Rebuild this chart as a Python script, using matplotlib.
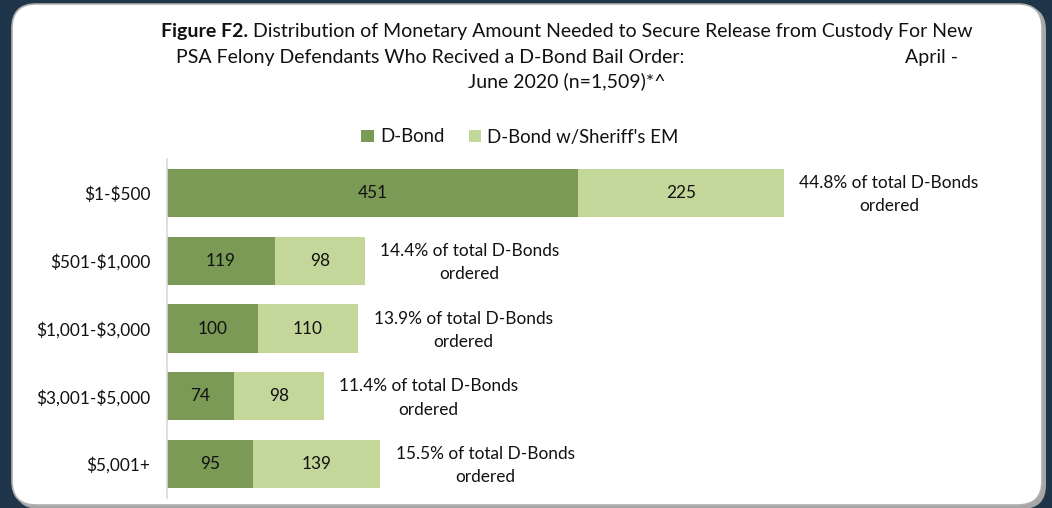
import matplotlib
matplotlib.use("Agg")
import matplotlib.pyplot as plt
from matplotlib.patches import FancyBboxPatch, Patch

plt.rcParams['font.family'] = ['Lato', 'DejaVu Sans']
plt.rcParams['text.parse_math'] = False

categories = ["$1-$500", "$501-$1,000", "$1,001-$3,000", "$3,001-$5,000", "$5,001+"]
dbond = [451, 119, 100, 74, 95]
dbond_em = [225, 98, 110, 98, 139]
pct_labels = ["44.8% of total D-Bonds\nordered", "14.4% of total D-Bonds\nordered",
              "13.9% of total D-Bonds\nordered", "11.4% of total D-Bonds\nordered",
              "15.5% of total D-Bonds\nordered"]
series_names = ["D-Bond", "D-Bond w/Sheriff's EM"]

C_DARK = "#7a9a55"
C_LIGHT = "#c4d79b"
TXT = "#111111"
W, H = 1052, 508
FS = 12.4

fig = plt.figure(figsize=(W / 100, H / 100), dpi=100)
fig.patch.set_facecolor("#1f3549")

# background panel
bg = fig.add_axes([0, 0, 1, 1])
bg.set_xlim(0, W)
bg.set_ylim(H, 0)
bg.axis("off")
bg.add_patch(FancyBboxPatch((15, 6), 1031, 503, boxstyle="round,pad=0,rounding_size=24",
                            fc="#a6a6a6", ec="none"))
bg.add_patch(FancyBboxPatch((12, 4), 1030, 501, boxstyle="round,pad=0,rounding_size=24",
                            fc="white", ec="#b0b0b0", lw=1.2))

# chart axes
x0, x1 = 166.5, 1030
ytop, ybot = 159, 498
ax = fig.add_axes([x0 / W, (H - ybot) / H, (x1 - x0) / W, (ybot - ytop) / H])
ax.patch.set_alpha(0)
scale = 0.9135  # px per unit
ax.set_xlim(0, (x1 - x0) / scale)
ypos = list(range(len(categories)))
ax.set_ylim(len(categories) - 0.5, -0.5)

bh = 0.71
b1 = ax.barh(ypos, dbond, height=bh, color=C_DARK, label=series_names[0])
b2 = ax.barh(ypos, dbond_em, left=dbond, height=bh, color=C_LIGHT, label=series_names[1])
ax.bar_label(b1, labels=[str(v) for v in dbond], label_type="center", fontsize=FS, color=TXT)
ax.bar_label(b2, labels=[str(v) for v in dbond_em], label_type="center", fontsize=FS, color=TXT)

for i, (a, b, t) in enumerate(zip(dbond, dbond_em, pct_labels)):
    ax.annotate(t, xy=(a + b, i), xytext=(11, -1.2), textcoords="offset points",
                ha="left", va="center", multialignment="center", fontsize=FS, color=TXT,
                linespacing=1.55)

ax.set_yticks(ypos)
ax.set_yticklabels(categories, fontsize=FS, color=TXT)
ax.tick_params(axis="y", length=0, pad=11.5)
ax.set_xticks([])
for s in ["top", "right", "bottom"]:
    ax.spines[s].set_visible(False)
ax.spines["left"].set_color("#d9d9d9")
ax.spines["left"].set_linewidth(1.2)

# legend
handles = [Patch(fc=C_DARK, ec="none"), Patch(fc=C_LIGHT, ec="none")]
fig.legend(handles, series_names, loc="center", bbox_to_anchor=(520 / W, 1 - 137 / H),
           ncol=2, frameon=False, fontsize=13.4, handlelength=0.65, handleheight=0.65,
           handletextpad=0.35, columnspacing=1.3, labelcolor=TXT)

# title
fig.canvas.draw()
rend = fig.canvas.get_renderer()
cx = 567
fs_t = 14.0


def mixed_line(parts, y):
    texts = []
    for s, wgt in parts:
        texts.append(bg.text(0, y, s, fontsize=fs_t, fontweight=wgt, ha="left", va="center", color=TXT))
    widths = []
    for t in texts:
        bb = t.get_window_extent(renderer=rend)
        widths.append(bb.width)
    total = sum(widths)
    x = cx - total / 2
    for t, w in zip(texts, widths):
        t.set_x(x)
        x += w


mixed_line([("Figure F2.", "bold"), (" Distribution of Monetary Amount Needed to Secure Release from Custody For New", "normal")], 32)
bg.text(176, 57, "PSA Felony Defendants Who Recived a D-Bond Bail Order:", fontsize=fs_t, ha="left", va="center", color=TXT)
bg.text(958, 57, "April -", fontsize=fs_t, ha="right", va="center", color=TXT)
bg.text(cx, 81, "June 2020 (n=1,509)*^", fontsize=fs_t, ha="center", va="center", color=TXT)

fig.savefig("out.png", dpi=100, facecolor=fig.get_facecolor())
